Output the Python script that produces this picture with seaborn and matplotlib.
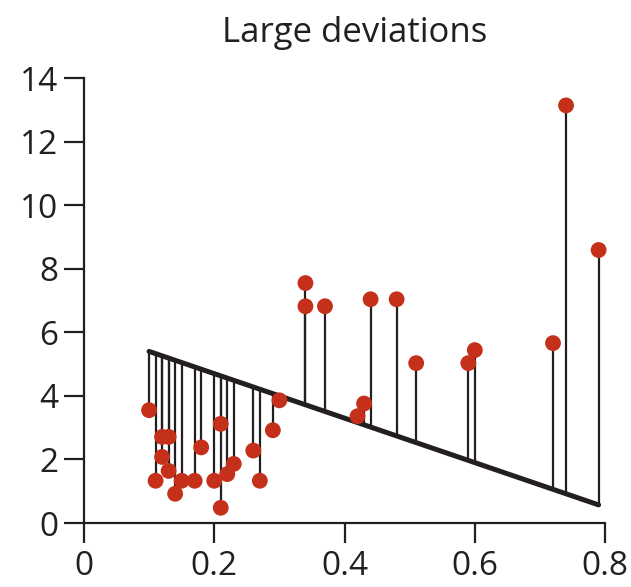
import numpy as np
import pandas as pd
import matplotlib
matplotlib.use("Agg")
import matplotlib.pyplot as plt
import seaborn as sb

# data
x_vals = [0.10, 0.11, 0.12, 0.12, 0.13, 0.13, 0.14, 0.15, 0.17, 0.18,
          0.20, 0.21, 0.21, 0.22, 0.23, 0.26, 0.27, 0.29, 0.30, 0.34,
          0.34, 0.37, 0.42, 0.43, 0.44, 0.48, 0.51, 0.59, 0.60, 0.72,
          0.74, 0.79]
y_vals = [3.55, 1.33, 2.71, 2.08, 2.71, 1.64, 0.92, 1.33, 1.33, 2.38,
          1.33, 3.12, 0.48, 1.54, 1.86, 2.28, 1.33, 2.92, 3.86, 7.55,
          6.82, 6.82, 3.36, 3.76, 7.04, 7.04, 5.03, 5.03, 5.44, 5.66,
          13.14, 8.59]
line_intercept = 6.1
line_slope = -7.0

x_ticks = [0, 0.2, 0.4, 0.6, 0.8]
y_ticks = [0, 2, 4, 6, 8, 10, 12, 14]

ink = "#231f20"
red = "#c4301a"


def createChart(out_file):
    sb.set_style("ticks")
    plt.rcParams["font.family"] = ["Open Sans", "DejaVu Sans"]

    df = pd.DataFrame({"x": x_vals, "y": y_vals})
    df["fit"] = line_intercept + line_slope * df["x"]

    fig = plt.figure(figsize=(6.31, 5.87), dpi=100)
    ax = fig.add_axes([0.133, 0.109, 0.826, 0.758])

    # stems from the line to each point
    ax.vlines(df["x"], df["fit"], df["y"], color=ink, linewidth=1.6, zorder=1)

    # the straight line across the data range
    line_df = pd.DataFrame({"x": [df["x"].min(), df["x"].max()]})
    line_df["fit"] = line_intercept + line_slope * line_df["x"]
    sb.lineplot(data=line_df, x="x", y="fit", ax=ax, color=ink, linewidth=3.6,
                zorder=2, solid_capstyle="round")

    sb.scatterplot(data=df, x="x", y="y", ax=ax, color=red, s=130,
                   edgecolor="none", zorder=3, clip_on=False)

    ax.set_xlim(0, 0.8)
    ax.set_ylim(0, 14)
    ax.set_xticks(x_ticks)
    ax.set_xticklabels(["0", "0.2", "0.4", "0.6", "0.8"])
    ax.set_yticks(y_ticks)
    ax.set_xlabel("")
    ax.set_ylabel("")

    for side in ["top", "right"]:
        ax.spines[side].set_visible(False)
    for side in ["left", "bottom"]:
        ax.spines[side].set_linewidth(1.6)
        ax.spines[side].set_color(ink)
    ax.tick_params(direction="out", length=14.5, width=1.6, color=ink,
                   labelsize=24, labelcolor=ink, pad=4)
    ax.tick_params(axis="x", pad=5)

    ax.set_title("Large deviations", fontsize=25, color=ink, pad=26, x=0.52)

    fig.savefig(out_file, dpi=100)
    plt.close(fig)


def main():
    createChart("out.png")


if "__main__" == __name__:
    main()
